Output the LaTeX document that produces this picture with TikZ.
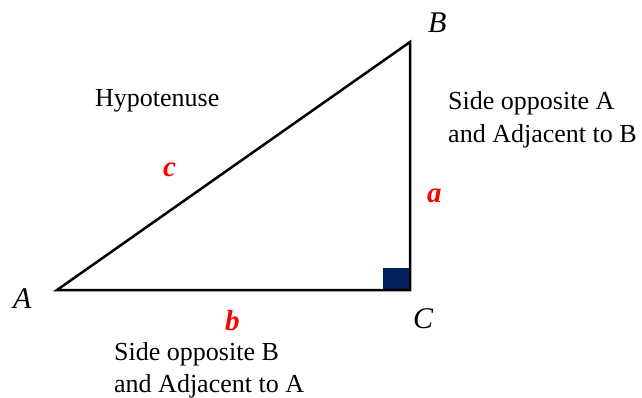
\documentclass[tikz,border=0pt]{standalone}
\usepackage{fontspec}
\setmainfont{Liberation Serif}
\definecolor{navysq}{RGB}{0,32,96}
\definecolor{lblred}{RGB}{255,0,0}
\begin{document}
\begin{tikzpicture}[x=1pt,y=-1pt,
  txt/.style={inner sep=0pt,anchor=base west,font=\fontsize{26}{30}\selectfont},
  vtx/.style={inner sep=0pt,anchor=base west,font=\fontsize{30}{33}\selectfont\itshape},
  side/.style={inner sep=0pt,anchor=base west,text=lblred,font=\fontsize{29}{32}\selectfont\bfseries\itshape}]
\useasboundingbox (0,0) rectangle (642,398);
\coordinate (A) at (57,290);
\coordinate (B) at (410,42);
\coordinate (C) at (410,290);
\fill[navysq] (383,268) rectangle (410,290);
\draw[line width=2.5pt,line join=miter] (A) -- (B) -- (C) -- cycle;
\node[vtx] (lA) at (13,308) {A};
\node[vtx] (lB) at (428,32.5) {B};
\node[vtx] (lC) at (413,328) {C};
\node[side] (la) at (427,202.5) {a};
\node[side] (lb) at (225,330) {b};
\node[side] (lc) at (163,176.5) {c};
\node[txt] (hyp) at (95,106.5) {Hypotenuse};
\node[txt] (soa1) at (448,110) {Side opposite A};
\node[txt] (soa2) at (448,142.5) {and Adjacent to B};
\node[txt] (sob1) at (114,360) {Side opposite B};
\node[txt] (sob2) at (114,392.3) {and Adjacent to A};
\end{tikzpicture}
\end{document}
